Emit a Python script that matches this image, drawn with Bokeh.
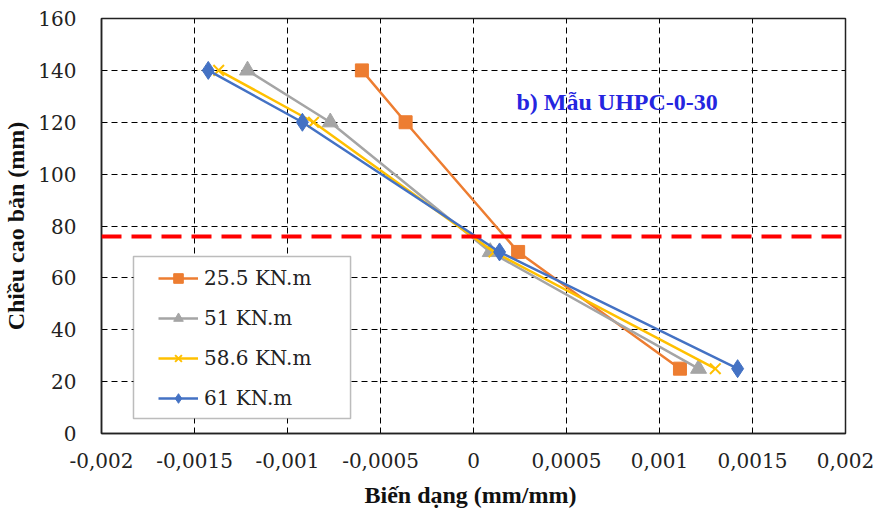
from bokeh.plotting import figure
from bokeh.models import FixedTicker, Legend, LegendItem, Span, Label, BoxAnnotation, Range1d
from bokeh.embed import file_html
from bokeh.resources import INLINE

# ---- data ----
heights = [140, 120, 70, 25]
strain_25_5 = [-0.0006, -0.000365, 0.00024, 0.00111]
strain_51 = [-0.001215, -0.00077, 0.00009, 0.00121]
strain_58_6 = [-0.00137, -0.00086, 0.00011, 0.0013]
strain_61 = [-0.001426, -0.00092, 0.00014, 0.00142]
series_labels = ["25.5 KN.m", "51 KN.m", "58.6 KN.m", "61 KN.m"]
x_ticks = [-0.002, -0.0015, -0.001, -0.0005, 0, 0.0005, 0.001, 0.0015, 0.002]
x_tick_labels = ["-0,002", "-0,0015", "-0,001", "-0,0005", "0", "0,0005", "0,001", "0,0015", "0,002"]
y_ticks = [0, 20, 40, 60, 80, 100, 120, 140, 160]
neutral_axis = 76
title_text = "b) Mẫu UHPC-0-30"

BOLD_FONT = "Liberation Serif"
REG_FONT = "DejaVu Serif"

p = figure(width=874, height=515, output_backend="svg", toolbar_location=None,
           x_range=Range1d(-0.002, 0.002), y_range=Range1d(0, 160),
           min_border_left=99, min_border_right=29, min_border_top=18, min_border_bottom=82)
p.background_fill_color = "white"
p.border_fill_color = "white"
p.outline_line_color = "#222222"
p.outline_line_width = 1.5

# axes
p.xaxis.ticker = FixedTicker(ticks=x_ticks)
p.xaxis.major_label_overrides = dict(zip(x_ticks, x_tick_labels))
p.yaxis.ticker = FixedTicker(ticks=y_ticks)
for ax in (p.xaxis[0], p.yaxis[0]):
    ax.major_label_text_font = REG_FONT
    ax.major_label_text_font_size = "20px"
    ax.major_label_text_color = "#222222"
    ax.major_tick_line_color = None
    ax.minor_tick_line_color = None
    ax.axis_line_color = "#222222"
    ax.axis_line_width = 1.5
    ax.axis_label_text_font = BOLD_FONT
    ax.axis_label_text_font_size = "24px"
    ax.axis_label_text_font_style = "bold"
    ax.axis_label_text_color = "#111111"
p.xaxis.axis_label = "Biến dạng  (mm/mm)"
p.yaxis.axis_label = "Chiều cao bản (mm)"
p.xaxis.major_label_standoff = 13
p.xaxis.axis_label_standoff = 11
p.yaxis.major_label_standoff = 19
p.yaxis.axis_label_standoff = 6

# grid
for g in (p.xgrid[0], p.ygrid[0]):
    g.grid_line_color = "black"
    g.grid_line_width = 1
    g.grid_line_dash = "6 4"

# neutral axis line
p.add_layout(Span(location=neutral_axis, dimension="width", line_color="#FF0000",
                  line_width=4, line_dash="20 10"))

colors = ["#ED7D31", "#A5A5A5", "#FFC000", "#4472C4"]
markers = ["square", "triangle", "x", "diamond"]
sizes = [13, 16, 15, 18]
series = [strain_25_5, strain_51, strain_58_6, strain_61]

items = []
for xs, c, m, s, lab in zip(series, colors, markers, sizes, series_labels):
    r1 = p.line(xs, heights, line_color=c, line_width=2.5)
    if m == "x":
        r2 = p.scatter(xs, heights, marker=m, size=s, line_color=c, line_width=2)
    else:
        r2 = p.scatter(xs, heights, marker=m, size=s, fill_color=c, line_color=c)
    items.append(LegendItem(label=lab, renderers=[r1, r2]))

# legend frame
p.add_layout(BoxAnnotation(left=-0.001828, right=-0.000661, bottom=5.8, top=68.2,
                           fill_color="white", fill_alpha=1.0, line_color="#222222",
                           line_width=1.5, level="overlay"))

legend = Legend(items=items, location=(57, 23), margin=0, padding=6, spacing=16,
                glyph_width=40, glyph_height=24, label_height=24, label_standoff=6,
                label_text_font=REG_FONT, label_text_font_size="20px",
                label_text_color="#222222",
                border_line_color=None, background_fill_alpha=0.0)
p.add_layout(legend)

p.add_layout(Label(x=0.000231, y=128, text=title_text, text_font=BOLD_FONT,
                   text_font_size="24px", text_font_style="bold",
                   text_color="#2525E0", text_baseline="middle"))

open("out.html", "w").write(file_html(p, INLINE))
